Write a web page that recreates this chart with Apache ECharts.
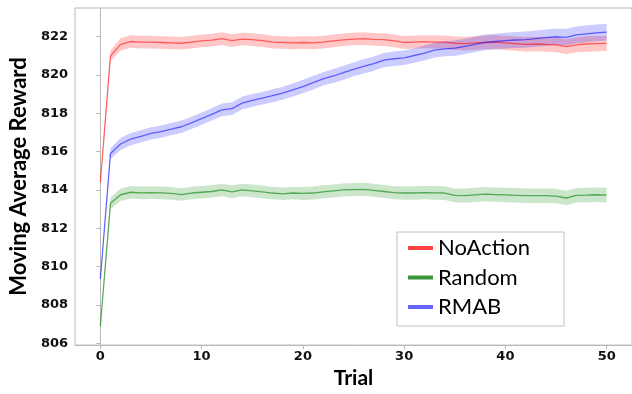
<!DOCTYPE html>
<html>
<head>
<meta charset="utf-8">
<script src="https://cdn.jsdelivr.net/npm/echarts@6/dist/echarts.min.js"></script>
<style>
  html, body { margin: 0; padding: 0; background: #fff; }
  #chart { width: 632px; height: 394px; }
</style>
</head>
<body>
<div id="chart"></div>
<script>
// trials 0..50
var trials = []
for (var i = 0; i <= 50; i++) trials.push(i)

var noAction = [814.4, 821.0, 821.6, 821.75, 821.72, 821.72, 821.7, 821.68, 821.66, 821.72,
  821.78, 821.82, 821.9, 821.8, 821.88, 821.85, 821.8, 821.72, 821.7, 821.68,
  821.7, 821.68, 821.72, 821.78, 821.84, 821.88, 821.9, 821.86, 821.85, 821.78,
  821.7, 821.72, 821.74, 821.72, 821.72, 821.66, 821.64, 821.68, 821.7, 821.72,
  821.68, 821.64, 821.6, 821.62, 821.6, 821.58, 821.48, 821.58, 821.62, 821.64, 821.65]
var random = [806.9, 813.3, 813.75, 813.88, 813.85, 813.86, 813.85, 813.82, 813.76, 813.84,
  813.88, 813.92, 814.0, 813.9, 814.0, 813.95, 813.9, 813.84, 813.8, 813.84,
  813.82, 813.84, 813.9, 813.95, 814.0, 814.02, 814.03, 813.98, 813.92, 813.86,
  813.84, 813.84, 813.86, 813.85, 813.84, 813.72, 813.7, 813.74, 813.78, 813.76,
  813.74, 813.72, 813.7, 813.7, 813.7, 813.68, 813.58, 813.72, 813.73, 813.75, 813.73]
var rmab = [809.35, 815.9, 816.4, 816.65, 816.8, 816.95, 817.05, 817.17, 817.3, 817.5,
  817.72, 817.95, 818.18, 818.25, 818.53, 818.68, 818.79, 818.92, 819.05, 819.22,
  819.4, 819.6, 819.8, 819.95, 820.12, 820.3, 820.45, 820.6, 820.78, 820.85,
  820.9, 821.02, 821.15, 821.3, 821.37, 821.4, 821.5, 821.6, 821.7, 821.75,
  821.8, 821.83, 821.85, 821.9, 821.95, 822.0, 821.97, 822.1, 822.15, 822.2, 822.24]

// half-width of the shaded band
var noActionSpread = [0.15, 0.28, 0.32, 0.33, 0.33, 0.33, 0.33, 0.33, 0.33, 0.33,
  0.33, 0.33, 0.33, 0.33, 0.33, 0.33, 0.33, 0.33, 0.33, 0.33,
  0.33, 0.33, 0.33, 0.33, 0.33, 0.33, 0.33, 0.33, 0.33, 0.33,
  0.34, 0.34, 0.34, 0.35, 0.35, 0.35, 0.36, 0.36, 0.36, 0.37,
  0.37, 0.37, 0.38, 0.38, 0.38, 0.39, 0.39, 0.39, 0.4, 0.4, 0.4]
var randomSpread = [0.15, 0.3, 0.33, 0.33, 0.33, 0.33, 0.33, 0.33, 0.33, 0.33,
  0.33, 0.33, 0.33, 0.33, 0.33, 0.33, 0.33, 0.33, 0.33, 0.33,
  0.34, 0.34, 0.34, 0.34, 0.34, 0.34, 0.34, 0.34, 0.34, 0.34,
  0.35, 0.35, 0.35, 0.36, 0.36, 0.36, 0.37, 0.37, 0.37, 0.37,
  0.38, 0.38, 0.38, 0.38, 0.38, 0.38, 0.38, 0.38, 0.38, 0.38, 0.38]
var rmabSpread = [0.15, 0.28, 0.31, 0.32, 0.32, 0.32, 0.32, 0.32, 0.32, 0.32,
  0.32, 0.32, 0.33, 0.33, 0.33, 0.33, 0.33, 0.34, 0.34, 0.34,
  0.35, 0.35, 0.35, 0.36, 0.36, 0.36, 0.37, 0.37, 0.37, 0.38,
  0.38, 0.38, 0.39, 0.39, 0.39, 0.4, 0.4, 0.4, 0.41, 0.41,
  0.41, 0.42, 0.42, 0.42, 0.43, 0.43, 0.43, 0.44, 0.44, 0.44, 0.44]

var names = ['NoAction', 'Random', 'RMAB']
var lineColors = ['rgba(255,0,0,0.55)', 'rgba(0,128,0,0.6)', 'rgba(0,0,255,0.55)']
var bandColors = ['rgba(255,0,0,0.22)', 'rgba(0,128,0,0.2)', 'rgba(0,0,255,0.2)']
var legendColors = ['#ff4444', '#3c963c', '#6464ff']

var Chart = echarts.init(document.getElementById('chart'))

let makeSeries = (name, idx, mean, spread) => {
  var band = [], line = []
  for (var i = 0; i < mean.length; i++) {
    band.push([trials[i], mean[i] - spread[i], mean[i] + spread[i]])
    line.push([trials[i], mean[i]])
  }
  return [
    {
      // shaded +- band, drawn as one polygon through the axis scales
      name: name + '_band', type: 'custom', silent: true,
      data: band,
      encode: { x: 0, y: [1, 2] },
      renderItem: (params, api) => {
        if (params.dataIndex !== 0) return
        var up = [], down = []
        for (var k = 0; k < band.length; k++) {
          up.push(api.coord([band[k][0], band[k][2]]))
          down.push(api.coord([band[k][0], band[k][1]]))
        }
        return {
          type: 'polygon',
          shape: { points: up.concat(down.reverse()) },
          style: { fill: bandColors[idx] }
        }
      }
    },
    {
      name: name, type: 'line', data: line, symbol: 'none',
      color: legendColors[idx],
      lineStyle: { color: lineColors[idx], width: 1.3 }
    }
  ]
}

var seriesData = []
  .concat(makeSeries('NoAction', 0, noAction, noActionSpread))
  .concat(makeSeries('Random', 1, random, randomSpread))
  .concat(makeSeries('RMAB', 2, rmab, rmabSpread))

var tickFont = {
  fontFamily: 'DejaVu Sans', fontWeight: 'bold', fontSize: 13, color: '#111'
}

var option = {
  animation: false,
  grid: {
    left: 69, top: 8, bottom: 41, right: -5,
    show: true, borderColor: '#b8b8b8', borderWidth: 1
  },
  legend: {
    data: names.map((n, i) => ({ name: n, itemStyle: { color: legendColors[i] } })),
    orient: 'vertical',
    left: 397, top: 232,
    padding: [5, 34, 8, 11],
    itemGap: 7.5,
    itemWidth: 25, itemHeight: 4,
    icon: 'rect',
    backgroundColor: '#fff',
    borderColor: '#c0c0c0', borderWidth: 1,
    textStyle: { fontFamily: 'Lato', fontSize: 22, color: '#000', padding: [0, 0, 0, 0] }
  },
  xAxis: {
    type: 'value',
    min: -2.5, max: 52.5,
    splitNumber: 5,
    name: 'Trial',
    nameLocation: 'middle',
    nameGap: 17,
    nameTextStyle: { fontFamily: 'Lato', fontWeight: 'bold', fontSize: 21, color: '#000' },
    axisLine: { show: true, lineStyle: { color: '#b8b8b8' } },
    axisTick: { show: true, length: 4, lineStyle: { color: '#b8b8b8' } },
    axisLabel: Object.assign({ margin: 5, showMinLabel: false, showMaxLabel: false,
      formatter: v => (v % 10 === 0 ? String(v) : '') }, tickFont),
    splitLine: { show: false }
  },
  yAxis: {
    type: 'value',
    min: 805.9, max: 823.5,
    splitNumber: 8,
    name: 'Moving Average Reward',
    nameLocation: 'middle',
    nameGap: 45,
    nameTextStyle: { fontFamily: 'Lato', fontWeight: 'bold', fontSize: 22, color: '#000' },
    axisLine: { show: true, lineStyle: { color: '#b8b8b8' } },
    axisTick: { show: true, length: 4, lineStyle: { color: '#b8b8b8' } },
    axisLabel: Object.assign({ margin: 7, showMinLabel: false, showMaxLabel: false,
      formatter: v => (Math.abs(v - Math.round(v)) < 1e-6 && Math.round(v) % 2 === 0 ? String(Math.round(v)) : '') }, tickFont),
    splitLine: { show: false }
  },
  series: seriesData
}
Chart.setOption(option)
</script>
</body>
</html>
